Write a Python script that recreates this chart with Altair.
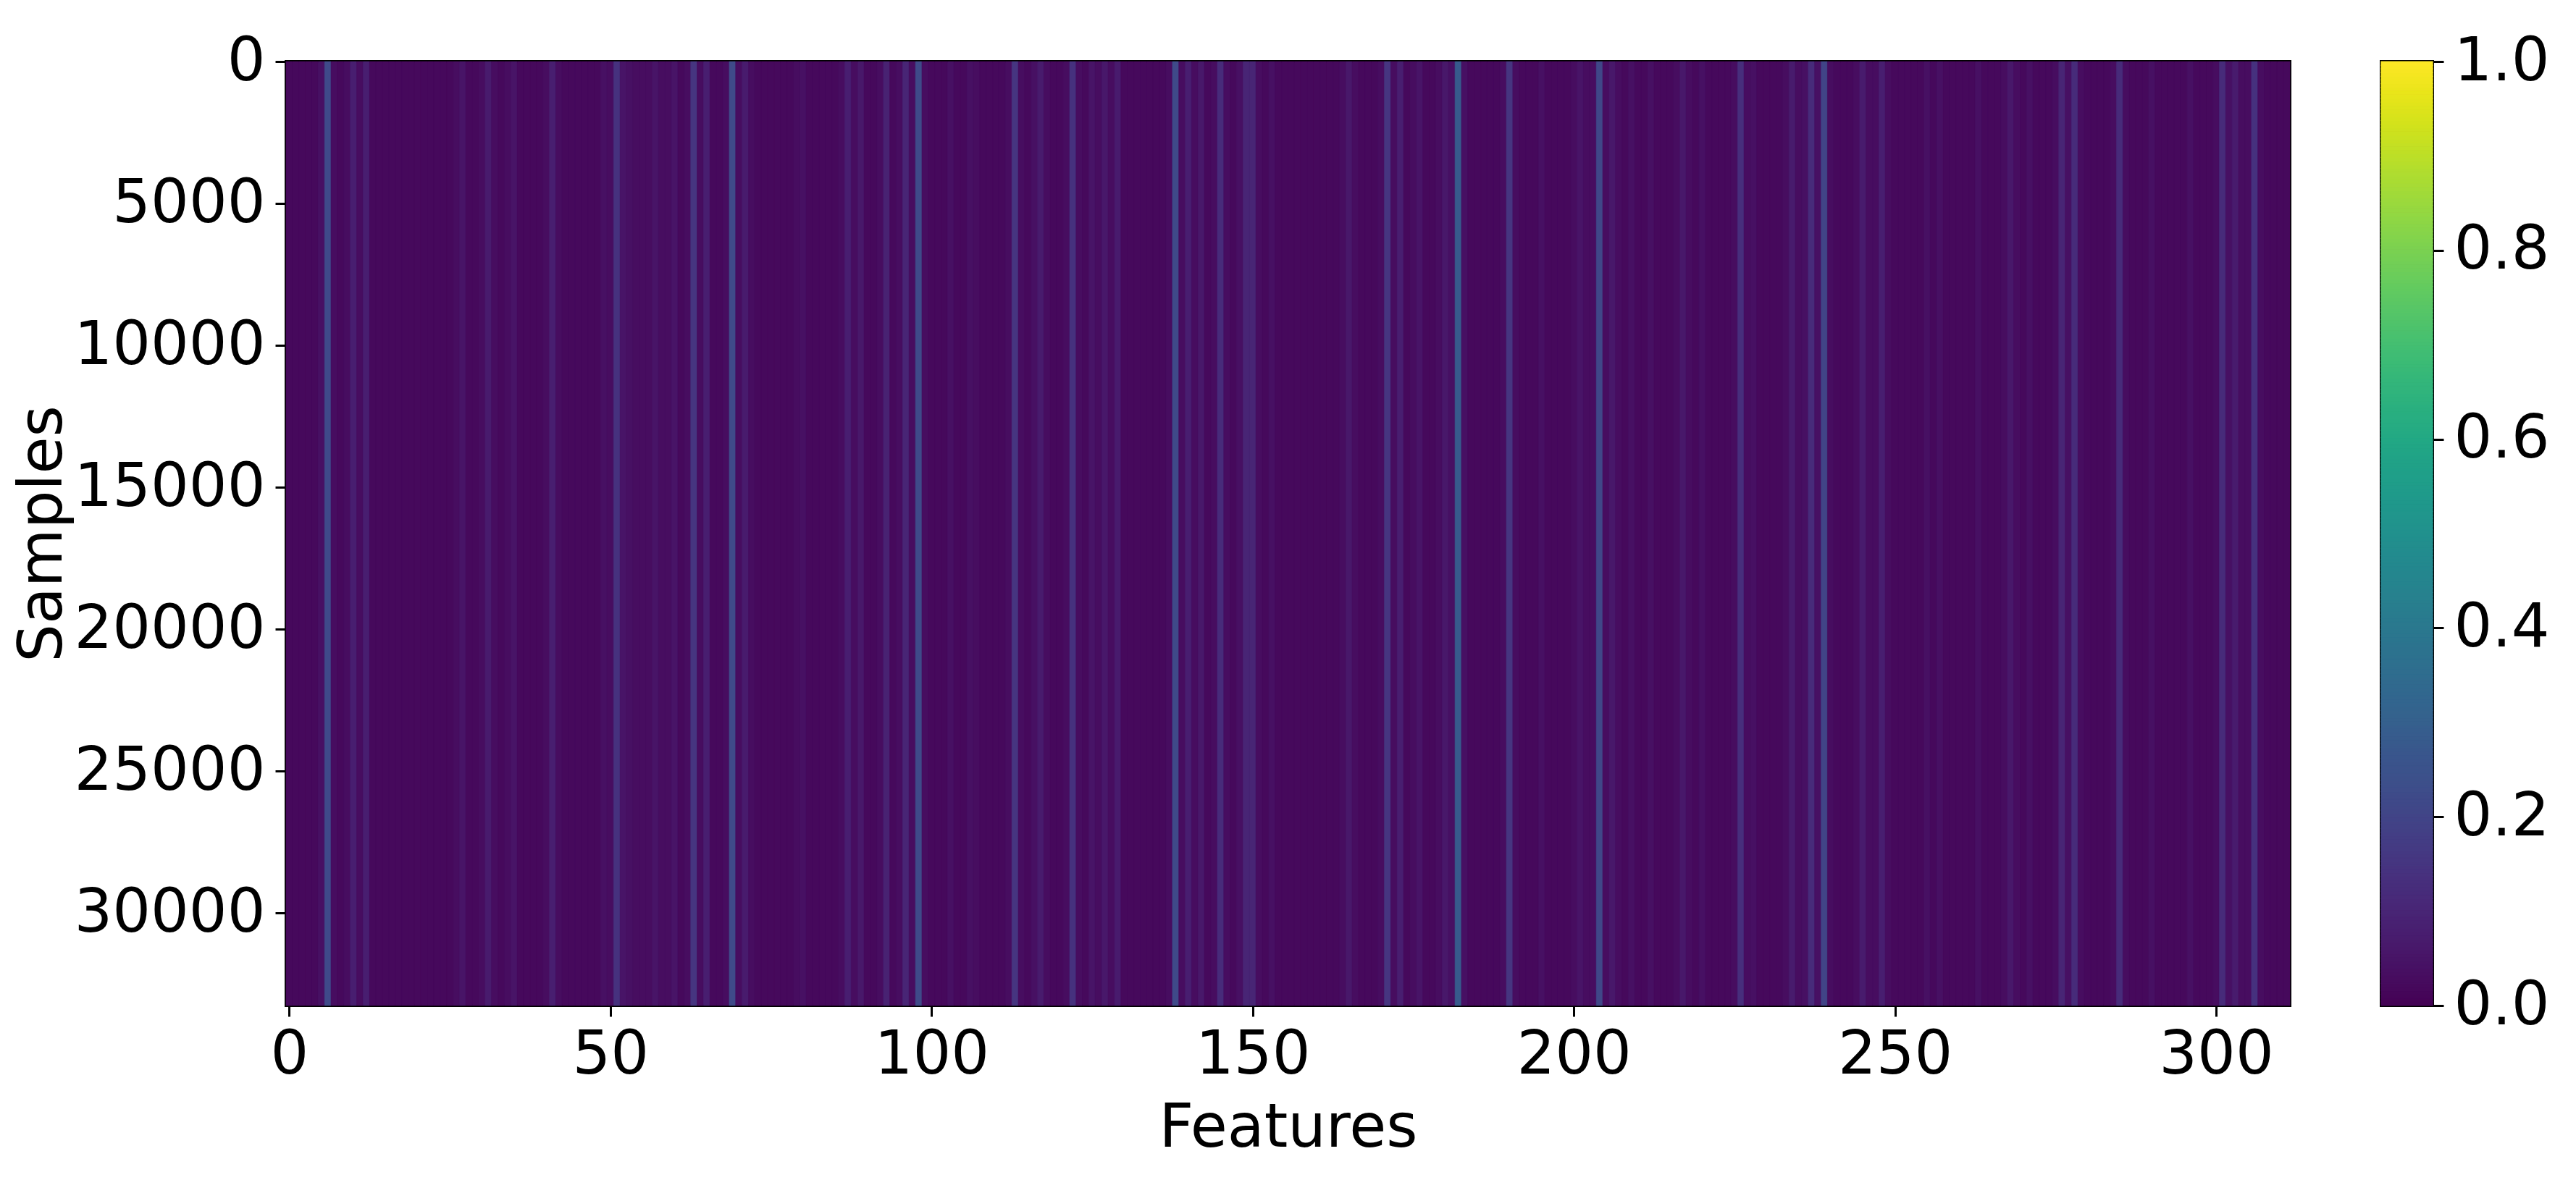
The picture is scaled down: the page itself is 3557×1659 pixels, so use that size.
import altair as alt
import pandas as pd
import numpy as np

N_FEATURES = 312
N_SAMPLES = 33260

# one value per feature (columns are nearly constant down the samples)
feature_values = [
    0.02, 0.02, 0.02, 0.02, 0.02, 0.04, 0.22, 0.03, 0.02, 0.03, 0.08, 0.03, 0.08, 0.02, 0.02, 0.02, 0.02, 0.02, 0.02, 0.02, 0.02, 0.02, 0.02, 0.02,
    0.02, 0.02, 0.03, 0.05, 0.02, 0.02, 0.03, 0.07, 0.03, 0.02, 0.03, 0.05, 0.02, 0.02, 0.02, 0.02, 0.03, 0.08, 0.03, 0.02, 0.02, 0.02, 0.02, 0.02,
    0.02, 0.04, 0.03, 0.14, 0.05, 0.04, 0.03, 0.03, 0.03, 0.05, 0.03, 0.03, 0.05, 0.02, 0.03, 0.15, 0.03, 0.08, 0.02, 0.02, 0.03, 0.22, 0.03, 0.07,
    0.03, 0.02, 0.02, 0.02, 0.02, 0.02, 0.02, 0.03, 0.04, 0.02, 0.02, 0.02, 0.02, 0.02, 0.03, 0.08, 0.03, 0.06, 0.02, 0.02, 0.03, 0.09, 0.02, 0.03,
    0.10, 0.03, 0.22, 0.03, 0.02, 0.02, 0.02, 0.04, 0.02, 0.02, 0.04, 0.03, 0.02, 0.02, 0.02, 0.02, 0.03, 0.15, 0.03, 0.02, 0.04, 0.07, 0.03, 0.02,
    0.02, 0.03, 0.14, 0.03, 0.02, 0.05, 0.03, 0.06, 0.03, 0.07, 0.02, 0.02, 0.02, 0.02, 0.02, 0.02, 0.02, 0.03, 0.22, 0.03, 0.08, 0.03, 0.06, 0.02,
    0.03, 0.12, 0.03, 0.02, 0.04, 0.10, 0.10, 0.03, 0.02, 0.04, 0.02, 0.02, 0.02, 0.02, 0.02, 0.02, 0.02, 0.02, 0.02, 0.02, 0.03, 0.06, 0.03, 0.02,
    0.02, 0.02, 0.03, 0.15, 0.03, 0.08, 0.02, 0.03, 0.05, 0.02, 0.02, 0.03, 0.06, 0.04, 0.28, 0.04, 0.02, 0.02, 0.02, 0.02, 0.02, 0.03, 0.15, 0.03,
    0.02, 0.02, 0.02, 0.04, 0.02, 0.02, 0.02, 0.02, 0.03, 0.05, 0.03, 0.03, 0.21, 0.03, 0.06, 0.03, 0.02, 0.04, 0.02, 0.02, 0.04, 0.02, 0.02, 0.02,
    0.03, 0.06, 0.03, 0.02, 0.04, 0.02, 0.02, 0.02, 0.02, 0.03, 0.13, 0.03, 0.04, 0.02, 0.02, 0.02, 0.02, 0.03, 0.07, 0.03, 0.04, 0.12, 0.04, 0.20,
    0.03, 0.02, 0.02, 0.02, 0.03, 0.07, 0.03, 0.03, 0.08, 0.03, 0.02, 0.02, 0.02, 0.02, 0.02, 0.04, 0.02, 0.04, 0.02, 0.02, 0.02, 0.02, 0.02, 0.04,
    0.02, 0.02, 0.02, 0.03, 0.06, 0.03, 0.02, 0.04, 0.02, 0.02, 0.02, 0.03, 0.10, 0.04, 0.12, 0.03, 0.02, 0.02, 0.02, 0.02, 0.03, 0.12, 0.03, 0.02,
    0.02, 0.02, 0.04, 0.02, 0.02, 0.02, 0.02, 0.02, 0.04, 0.02, 0.02, 0.02, 0.03, 0.12, 0.04, 0.07, 0.03, 0.03, 0.14, 0.03, 0.02, 0.02, 0.02, 0.02,
]

x_ticks = [0, 50, 100, 150, 200, 250, 300]
y_ticks = [0, 5000, 10000, 15000, 20000, 25000, 30000]
cb_ticks = [0.0, 0.2, 0.4, 0.6, 0.8, 1.0]
cb_levels = list(np.linspace(0.0, 1.0, 257))

PLOT_W = 2767
PLOT_H = 1304

df = pd.DataFrame({"feature": list(range(N_FEATURES)), "value": feature_values})
df["x0"] = df["feature"] - 0.5
df["x1"] = df["feature"] + 0.5
df["y0"] = -0.5
df["y1"] = N_SAMPLES - 0.5

cb = pd.DataFrame({"lo": cb_levels[:-1], "hi": cb_levels[1:]})
cb["mid"] = (cb["lo"] + cb["hi"]) / 2

cscale = alt.Scale(scheme="viridis", domain=[0, 1])

heat = alt.Chart(df).mark_rect(strokeWidth=0.6).encode(
    x=alt.X("x0:Q",
            scale=alt.Scale(domain=[-0.5, N_FEATURES - 0.5], nice=False, zero=False),
            axis=alt.Axis(values=x_ticks, format="d", title="Features", labelFlush=False)),
    x2="x1:Q",
    y=alt.Y("y0:Q",
            scale=alt.Scale(domain=[-0.5, N_SAMPLES - 0.5], reverse=True, nice=False, zero=False),
            axis=alt.Axis(values=y_ticks, format="d", title="Samples", labelFlush=False,
                          labelPadding=14, titleX=-294, titleY=PLOT_H / 2,
                          titleAngle=270, titleAlign="center", titleBaseline="bottom")),
    y2="y1:Q",
    color=alt.Color("value:Q", scale=cscale, legend=None),
    stroke=alt.Stroke("value:Q", scale=cscale, legend=None),
).properties(width=PLOT_W, height=PLOT_H)

cbar = alt.Chart(cb).mark_rect(strokeWidth=1.2).encode(
    x=alt.value(0),
    x2=alt.value(71),
    y=alt.Y("lo:Q", scale=alt.Scale(domain=[0, 1], nice=False, zero=False),
            axis=alt.Axis(orient="right", values=cb_ticks, format=".1f", title=None,
                          labelFlush=False, labelPadding=14)),
    y2="hi:Q",
    color=alt.Color("mid:Q", scale=cscale, legend=None),
    stroke=alt.Stroke("mid:Q", scale=cscale, legend=None),
).properties(width=71, height=PLOT_H)

chart = alt.hconcat(heat, cbar, spacing=120).configure_view(
    stroke="black", strokeWidth=4, fill="#45045a"
).configure_axis(
    labelFont="DejaVu Sans", labelFontSize=83, labelColor="black", labelLimit=800,
    titleFont="DejaVu Sans", titleFontSize=83, titleFontWeight="normal", titleColor="black",
    tickColor="black", tickSize=15, tickWidth=3, domain=False, grid=False,
    labelPadding=12, titlePadding=18,
).properties(
    background="white",
    padding={"left": 8, "top": 34, "right": 5, "bottom": 5},
)

chart.save("out.html", embed_options={"renderer": "svg", "actions": False})
